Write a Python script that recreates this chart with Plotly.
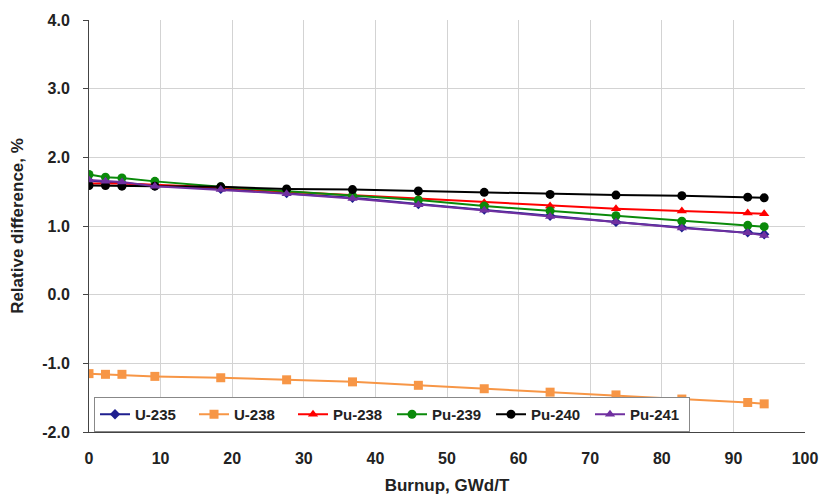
import plotly.graph_objects as go

burnup = [0, 2.3, 4.6, 9.2, 18.4, 27.6, 36.8, 46.0, 55.2, 64.4, 73.6, 82.8, 92.0, 94.3]

u235 = [1.66, 1.64, 1.63, 1.59, 1.54, 1.48, 1.41, 1.32, 1.24, 1.15, 1.06, 0.98, 0.91, 0.88]
u238 = [-1.15, -1.16, -1.16, -1.19, -1.21, -1.24, -1.27, -1.32, -1.37, -1.42, -1.46, -1.52, -1.57, -1.59]
pu238 = [1.62, 1.62, 1.62, 1.60, 1.56, 1.50, 1.45, 1.40, 1.34, 1.29, 1.25, 1.22, 1.19, 1.18]
pu239 = [1.75, 1.71, 1.70, 1.65, 1.57, 1.51, 1.44, 1.38, 1.29, 1.22, 1.15, 1.07, 1.01, 0.99]
pu240 = [1.59, 1.59, 1.58, 1.58, 1.57, 1.54, 1.53, 1.51, 1.49, 1.46, 1.45, 1.44, 1.42, 1.41]
pu241 = [1.67, 1.65, 1.64, 1.58, 1.53, 1.47, 1.40, 1.31, 1.23, 1.14, 1.06, 0.97, 0.90, 0.86]

names = ["U-235", "U-238", "Pu-238", "Pu-239", "Pu-240", "Pu-241"]
series = [u235, u238, pu238, pu239, pu240, pu241]
colors = ["#1F1F8F", "#F79646", "#FF0000", "#0A8A0A", "#000000", "#7030A0"]
symbols = ["diamond", "square", "triangle-up", "circle", "circle", "triangle-up"]

x_ticks = [0, 10, 20, 30, 40, 50, 60, 70, 80, 90, 100]
y_ticks = [-2, -1, 0, 1, 2, 3, 4]

fig = go.Figure()
for name, ys, c, s in zip(names, series, colors, symbols):
    fig.add_trace(go.Scatter(
        x=burnup, y=ys, name=name, mode="lines+markers",
        line=dict(color=c, width=2),
        marker=dict(symbol=s, size=9 if s != "diamond" else 8, color=c),
    ))

font_family = "Liberation Sans, Arial, sans-serif"
fig.update_layout(
    width=830, height=503,
    margin=dict(l=89, r=19, t=17, b=66),
    plot_bgcolor="white", paper_bgcolor="white",
    font=dict(family=font_family, size=16, color="#222222"),
    showlegend=True,
    legend=dict(
        orientation="h", x=0.007, y=0.0, xanchor="left", yanchor="bottom",
        bgcolor="white", bordercolor="#888888", borderwidth=1,
        font=dict(family=font_family, size=15, color="#222222", weight="bold"),
        entrywidth=54, itemwidth=30, tracegroupgap=0,
    ),
    xaxis=dict(
        range=[0, 100], tickvals=x_ticks, ticktext=[str(v) for v in x_ticks],
        showgrid=True, gridcolor="#D3D3D3", gridwidth=1,
        showline=True, linecolor="#444444", linewidth=1,
        ticks="",
        tickfont=dict(size=16, weight="bold", color="#222222"),
        ticklabelstandoff=12,
        zeroline=False,
        title=dict(text="Burnup, GWd/T", font=dict(size=17, weight="bold", color="#222222"), standoff=12),
    ),
    yaxis=dict(
        range=[-2, 4], tickvals=y_ticks, ticktext=[f"{v:.1f}" for v in y_ticks],
        showgrid=True, gridcolor="#D3D3D3", gridwidth=1,
        showline=True, linecolor="#444444", linewidth=1,
        ticks="outside", ticklen=5, tickcolor="#444444",
        tickfont=dict(size=16, weight="bold", color="#222222"),
        ticklabelstandoff=10,
        zeroline=False,
        title=dict(text="Relative difference, %", font=dict(size=17, weight="bold", color="#222222"), standoff=14),
    ),
)

fig.write_html("out.html")
